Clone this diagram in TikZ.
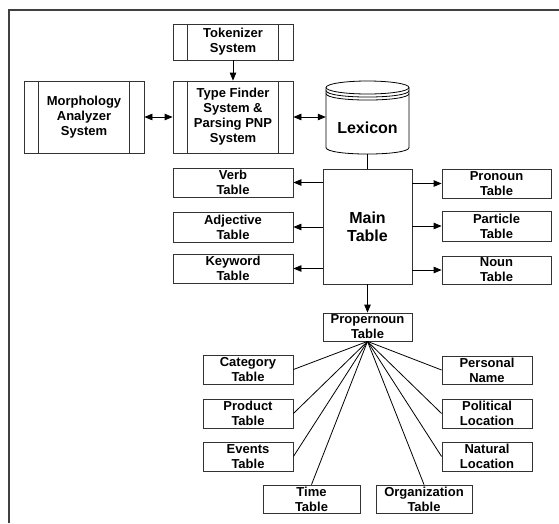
\documentclass[tikz,border=0pt]{standalone}
\usepackage{fontspec}
\setmainfont{Liberation Sans}
\usetikzlibrary{arrows.meta}
\begin{document}
\begin{tikzpicture}[x=1pt,y=-1pt,
  every node/.style={font=\fontsize{13}{15}\selectfont\bfseries, align=center},
  bx/.style={draw=black!80, line width=0.8pt, inner sep=0pt, fill=white},
  proc/.style={bx, minimum width=120pt},
  big/.style={font=\fontsize{16}{18}\selectfont\bfseries},
  arr/.style={-{Triangle[length=8pt,width=6.5pt]}, line width=0.8pt},
  darr/.style={{Triangle[length=8pt,width=6.5pt]}-{Triangle[length=8pt,width=6.5pt]}, line width=0.8pt},
  ln/.style={line width=0.8pt},
  frame/.style={line width=1.8pt, draw=black!75}]
\useasboundingbox (0,0) rectangle (559,523);
\draw[frame] (9,523) -- (9,10) -- (559,10);

% process boxes
\node[proc, minimum height=36pt] (tok) at (233,42) {Tokenizer\\System};
\node[proc, minimum height=72pt] (tf) at (233,117) {Type Finder\\System \&\\Parsing PNP\\System};
\node[proc, minimum height=72pt] (morph) at (84,117) {Morphology\\Analyzer\\System};
\foreach \n in {tok,tf,morph}{
  \draw[ln, black!80] ([xshift=15pt]\n.north west) -- ([xshift=15pt]\n.south west);
  \draw[ln, black!80] ([xshift=-15pt]\n.north east) -- ([xshift=-15pt]\n.south east);
}

% lexicon cylinder
\draw[ln] (326,87.5) -- (326,147.5) .. controls (326,156.2) and (409,156.2) .. (409,147.5) -- (409,87.5);
\draw[ln] (367.5,87.5) ellipse (41.5 and 6.5);
\draw[ln] (326,90.5) .. controls (326,99.2) and (409,99.2) .. (409,90.5);
\draw[ln] (326,93.5) .. controls (326,102.2) and (409,102.2) .. (409,93.5);
\node[inner sep=0pt, minimum width=83pt, minimum height=73pt] (lex) at (367.5,117.5) {};
\node[big] (lextxt) at (367.5,128) {Lexicon};

% main table
\node[bx, big, minimum width=89pt, minimum height=115pt] (main) at (367.5,226.5) {Main\\Table};

\node[bx, minimum width=120pt, minimum height=29pt] (verb) at (233,182.5) {Verb\\Table};
\node[bx, minimum width=120pt, minimum height=30pt] (adj) at (233,227) {Adjective\\Table};
\node[bx, minimum width=120pt, minimum height=29pt] (key) at (233,268.5) {Keyword\\Table};
\node[bx, minimum width=109pt, minimum height=29pt] (pron) at (496.5,183.5) {Pronoun\\Table};
\node[bx, minimum width=109pt, minimum height=30pt] (part) at (496.5,226) {Particle\\Table};
\node[bx, minimum width=109pt, minimum height=28pt] (noun) at (496.5,270) {Noun\\Table};

\node[bx, minimum width=89pt, minimum height=28pt] (prop) at (367.5,327) {Propernoun\\Table};

\node[bx, minimum width=90pt, minimum height=29pt] (cat) at (248,369.5) {Category\\Table};
\node[bx, minimum width=90pt, minimum height=29pt] (prod) at (248,413.5) {Product\\Table};
\node[bx, minimum width=90pt, minimum height=29pt] (ev) at (248,456.5) {Events\\Table};
\node[bx, minimum width=97pt, minimum height=28pt] (time) at (311.5,499) {Time\\Table};
\node[bx, minimum width=96pt, minimum height=28pt] (org) at (424,499) {Organization\\Table};
\node[bx, minimum width=90pt, minimum height=28pt] (pers) at (487,370) {Personal\\Name};
\node[bx, minimum width=90pt, minimum height=29pt] (pol) at (487,413.5) {Political\\Location};
\node[bx, minimum width=90pt, minimum height=29pt] (nat) at (487,456.5) {Natural\\Location};

% connectors
\draw[arr] (tok.south) -- (tf.north);
\draw[darr] (morph.east) -- (tf.west);
\draw[darr] (tf.east) -- (tf.east -| lex.west);
\draw[ln] (lex.south) -- (main.north);
\foreach \t in {verb,adj,key}{
  \draw[arr] (main.west |- \t.east) -- (\t.east);
}
\foreach \t in {pron,part,noun}{
  \draw[arr] (main.east |- \t.west) -- (\t.west);
}
\draw[arr] (main.south) -- (prop.north);
\foreach \t in {cat,prod,ev}{
  \draw[ln] (prop.south) -- (\t.east);
}
\foreach \t in {pers,pol,nat}{
  \draw[ln] (prop.south) -- (\t.west);
}
\foreach \t in {time,org}{
  \draw[ln] (prop.south) -- (\t.north);
}
\end{tikzpicture}
\end{document}
